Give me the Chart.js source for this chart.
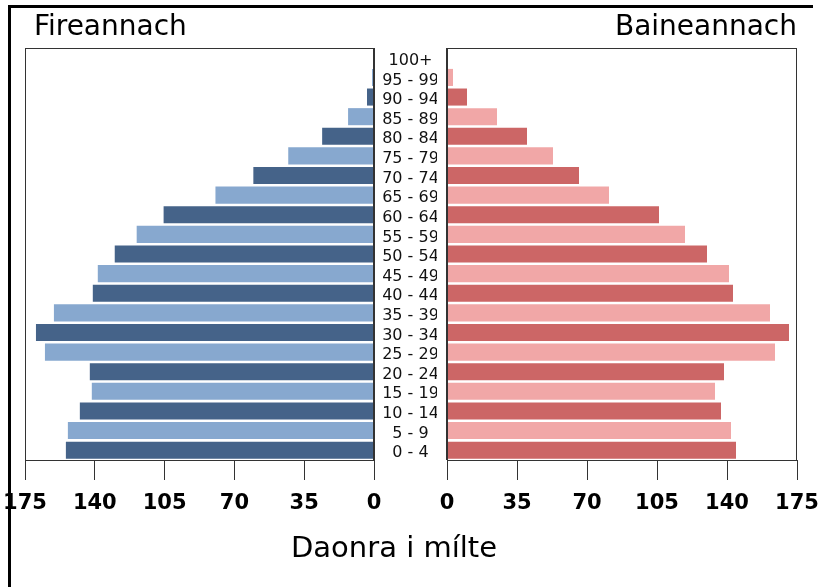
<!DOCTYPE html>
<html>
<head>
<meta charset="utf-8">
<title>Daonra i mílte</title>
<script src="https://cdn.jsdelivr.net/npm/chart.js@4.4.0/dist/chart.umd.min.js"></script>
<style>
  html, body { margin: 0; padding: 0; background: #fff; overflow: hidden; }
  #stage { position: relative; width: 819px; height: 587px; overflow: hidden; }
  #hline { position: absolute; left: 8px; top: 5px; width: 805px; height: 3px; background: #000; }
  #vline { position: absolute; left: 8px; top: 5px; width: 3px; height: 582px; background: #000; }
  canvas { position: absolute; top: 0; }
  #left { left: 0; }
  #right { left: 437px; }
  #xtitle {
    position: absolute; left: 0; width: 788px; top: 530px;
    text-align: center; font: 29px "Comic Sans MS", "DejaVu Sans", sans-serif; color: #000;
  }
</style>
</head>
<body>
<div id="stage">
  <div id="hline"></div>
  <div id="vline"></div>
  <canvas id="left" width="437" height="587"></canvas>
  <canvas id="right" width="382" height="587"></canvas>
  <div id="xtitle">Daonra i mílte</div>
</div>
<script>
// ============================================
// Data (thousands), top row first
// ============================================
const ageGroups = ['100+', '95 - 99', '90 - 94', '85 - 89', '80 - 84', '75 - 79', '70 - 74',
  '65 - 69', '60 - 64', '55 - 59', '50 - 54', '45 - 49', '40 - 44', '35 - 39', '30 - 34',
  '25 - 29', '20 - 24', '15 - 19', '10 - 14', '5 - 9', '0 - 4'];
const males = [0.5, 1, 3.5, 13, 26, 43, 60.5, 79.5, 105.5, 119, 130, 138.5, 141, 160.5,
  169.5, 165, 142.5, 141.5, 147.5, 153.5, 154.5];
const females = [0.3, 3, 10, 25, 40, 53, 66, 81, 106, 119, 130, 141, 143, 161.5,
  171, 164, 138.5, 134, 137, 142, 144.5];
const xTicks = [0, 35, 70, 105, 140, 175];

const FONT = '"Comic Sans MS", "DejaVu Sans", sans-serif';
const maleColors = ageGroups.map((_, i) => i % 2 === 0 ? '#456389' : '#87a8cf');
const femaleColors = ageGroups.map((_, i) => i % 2 === 0 ? '#cc6666' : '#f1a7a7');

// ============================================
// Plugins
// ============================================
const framePlugin = {
  id: 'frame',
  afterDraw(chart) {
    const { ctx, chartArea: a, scales } = chart;
    ctx.save();
    ctx.strokeStyle = '#333';
    ctx.lineWidth = 1;
    ctx.strokeRect(a.left + 0.5, a.top + 0.5, a.right - a.left - 1, a.bottom - a.top);
    const zx = Math.round(scales.x.getPixelForValue(0));
    ctx.lineWidth = 2;
    ctx.beginPath();
    ctx.moveTo(zx, a.top);
    ctx.lineTo(zx, a.bottom);
    ctx.stroke();
    ctx.restore();
  }
};

const ageLabelPlugin = {
  id: 'ageLabels',
  afterDraw(chart) {
    const { ctx, chartArea: a, scales } = chart;
    ctx.save();
    ctx.font = '16px "DejaVu Sans", sans-serif';
    ctx.fillStyle = '#111';
    ctx.textAlign = 'center';
    ctx.textBaseline = 'middle';
    ageGroups.forEach((label, i) => {
      ctx.fillText(label, a.right + 36.5, scales.y.getPixelForValue(i) + 3);
    });
    ctx.restore();
  }
};

// ============================================
// Chart builder
// ============================================
const buildSide = (canvasId, values, colors, title, side) => {
  const isLeft = side === 'left';
  return new Chart(document.getElementById(canvasId), {
    type: 'bar',
    data: {
      labels: ageGroups,
      datasets: [{
        data: values,
        backgroundColor: colors,
        borderWidth: 0,
        barPercentage: 0.87,
        categoryPercentage: 1
      }]
    },
    options: {
      indexAxis: 'y',
      responsive: false,
      animation: false,
      layout: {
        padding: isLeft
          ? { left: 25, right: 63, top: 9, bottom: 57 }
          : { left: 10, right: 22, top: 9, bottom: 57 }
      },
      plugins: {
        legend: { display: false },
        tooltip: { enabled: false },
        title: {
          display: true,
          text: isLeft ? ' ' + title : title,
          align: isLeft ? 'start' : 'end',
          color: '#000',
          font: { family: FONT, size: 28, weight: 'normal', lineHeight: 1.2 },
          padding: { top: 2, bottom: 3.4 }
        }
      },
      scales: {
        x: {
          reverse: isLeft,
          min: 0,
          max: 175,
          afterBuildTicks: (scale) => { scale.ticks = xTicks.map(v => ({ value: v })); },
          afterFit: (scale) => { scale.height = 70; scale.paddingLeft = 0; scale.paddingRight = 0; },
          grid: { drawOnChartArea: false, drawTicks: true, tickLength: 20, color: '#333' },
          border: { display: false },
          ticks: {
            color: '#000',
            padding: 11,
            maxRotation: 0,
            autoSkip: false,
            font: { family: FONT, size: 21, weight: 'bold' }
          }
        },
        y: {
          display: false
        }
      }
    },
    plugins: isLeft ? [framePlugin, ageLabelPlugin] : [framePlugin]
  });
};

buildSide('left', males, maleColors, 'Fireannach', 'left');
buildSide('right', females, femaleColors, 'Baineannach', 'right');
</script>
</body>
</html>
